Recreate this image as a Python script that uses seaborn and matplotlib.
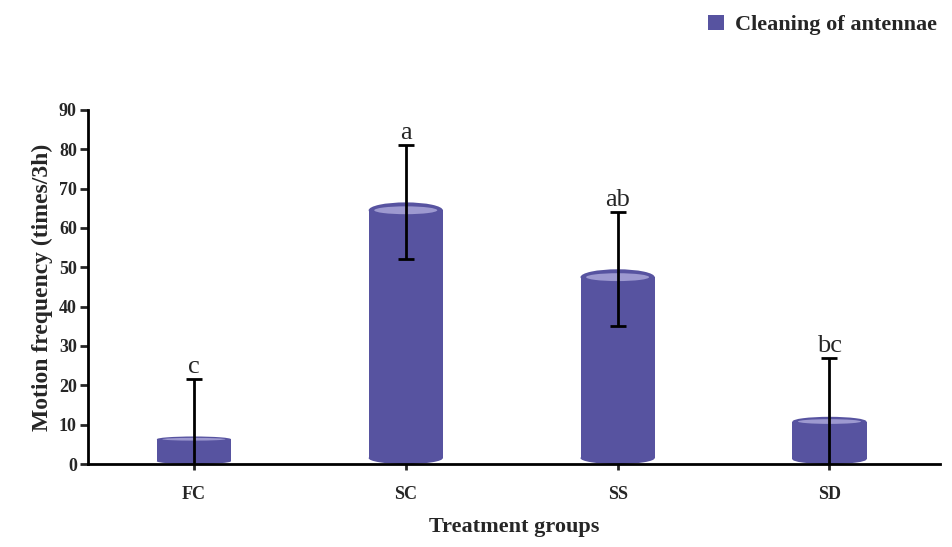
import matplotlib
matplotlib.use("Agg")
import matplotlib.pyplot as plt
import seaborn as sns
import pandas as pd
from matplotlib.patches import Ellipse, Patch

groups = ["FC", "SC", "SS", "SD"]
values = [7.0, 66.5, 49.5, 12.0]
errors = [14.5, 14.5, 14.5, 15.0]
letters = ["c", "a", "ab", "bc"]
yticks = [0, 10, 20, 30, 40, 50, 60, 70, 80, 90]

sns.set_style("white")
plt.rcParams['font.family'] = ['Liberation Serif', 'DejaVu Serif']

df = pd.DataFrame({"group": groups, "value": values})
color = "#5753a0"
fig = plt.figure(figsize=(9.52, 5.47), dpi=100)
ax = fig.add_axes([0.0924, 0.1517, 0.8946, 0.6473])
sns.barplot(data=df, x="group", y="value", color=color, width=0.35,
            saturation=1, ax=ax, errorbar=None)

for p, v in zip(ax.patches, values):
    eh = min(4.0, v * 0.2)
    eb = min(3.0, v * 0.2)
    x0, w = p.get_x(), p.get_width()
    p.set_y(eb / 2)
    p.set_height(v - eh / 2 - eb / 2)
    p.set_edgecolor("none")
    cx = x0 + w / 2
    ax.add_patch(Ellipse((cx, v - eh / 2), w, eh, facecolor=color, edgecolor="none", zorder=3))
    ax.add_patch(Ellipse((cx, v - eh / 2), w * 0.85, eh * 0.5, facecolor="#9d99d0",
                         edgecolor="none", zorder=3))
    ax.add_patch(Ellipse((cx, eb / 2), w, eb, facecolor=color, edgecolor="none",
                         zorder=2))

ax.errorbar(range(len(groups)), values, yerr=errors, fmt="none", ecolor="black",
            elinewidth=2, capsize=6, capthick=2, zorder=4)
for i, (v, e, t) in enumerate(zip(values, errors, letters)):
    ax.text(i, v + e + 0.3, t, ha="center", va="bottom", fontsize=19, zorder=5)

ax.set_xlim(-0.5, 3.52)
ax.set_ylim(0, 90)
ax.set_yticks(yticks)
ax.set_yticklabels([str(t) for t in yticks], fontsize=13, fontweight="bold")
ax.set_xticks(range(len(groups)))
ax.set_xticklabels(groups, fontsize=13, fontweight="bold")
ax.tick_params(axis="x", length=4, width=2, pad=12, direction="out", bottom=True)
ax.tick_params(axis="y", length=6, width=2, pad=2, direction="out", left=True)
ax.set_xlabel("Treatment groups", fontsize=16, fontweight="bold", labelpad=10)
ax.set_ylabel("Motion frequency (times/3h)", fontsize=17, fontweight="bold", labelpad=4)
for s in ["top", "right"]:
    ax.spines[s].set_visible(False)
for s in ["left", "bottom"]:
    ax.spines[s].set_linewidth(2)
    ax.spines[s].set_color("black")

handle = Patch(facecolor=color, edgecolor="none")
fig.legend([handle], ["Cleaning of antennae"], loc="upper right",
           bbox_to_anchor=(1.005, 1.01), frameon=False, handlelength=0.7,
           handleheight=0.7, handletextpad=0.5,
           prop={"family": "Liberation Serif", "weight": "bold", "size": 16})

fig.savefig("out.png", dpi=100)
